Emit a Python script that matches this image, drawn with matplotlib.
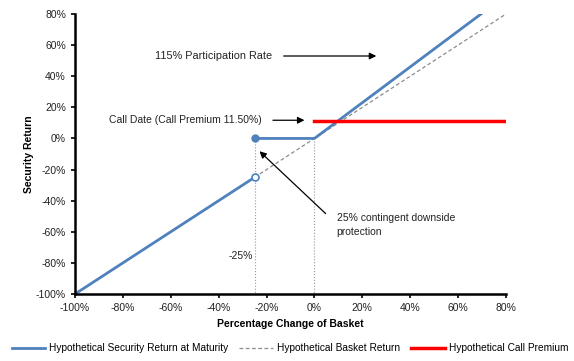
import matplotlib.pyplot as plt
from matplotlib.ticker import FuncFormatter

plt.rcParams['font.family'] = ['Liberation Sans', 'DejaVu Sans']

# security return at maturity (piecewise)
sec_x_low = [-100, -25]
sec_y_low = [-100, -25]
sec_x_high = [-25, 0, 69.57]
sec_y_high = [0, 0, 80]

basket_x = [-25, 80]
basket_y = [-25, 80]

premium_x = [0, 80]
premium_y = [11.5, 11.5]

buffer_x = -25
ticks = [-100, -80, -60, -40, -20, 0, 20, 40, 60, 80]

blue = "#4F81BD"
red = "#FF0000"

fig = plt.figure(figsize=(5.74, 3.61), dpi=100)
ax = fig.add_axes([0.1307, 0.1856, 0.7508, 0.7756])

# guide lines
ax.plot([buffer_x, buffer_x], [0, -100], color="#999999", ls=":", lw=0.8)
ax.plot([0, 0], [0, -100], color="#999999", ls=":", lw=0.8)

ax.plot(basket_x, basket_y, color="#8C8C8C", ls="--", lw=0.9,
        dashes=(3, 2), label="Hypothetical Basket Return")
ax.plot(sec_x_low, sec_y_low, color=blue, lw=2)
ax.plot(sec_x_high, sec_y_high, color=blue, lw=2,
        label="Hypothetical Security Return at Maturity")
ax.plot(premium_x, premium_y, color=red, lw=2.5,
        label="Hypothetical Call Premium")

ax.plot(buffer_x, -25, "o", ms=5, mfc="white", mec=blue, mew=1.2, zorder=5)
ax.plot(buffer_x, 0, "o", ms=5, mfc=blue, mec=blue, zorder=5)

# annotations
fs = 7.5
ax.text(-17.5, 53, "115% Participation Rate", ha="right", va="center", fontsize=7.8, color="#222222")
ax.annotate("", xy=(27, 53), xytext=(-14, 53),
            arrowprops=dict(arrowstyle="-|>", color="black", lw=0.9))
ax.text(-22, 11.7, "Call Date (Call Premium 11.50%)", ha="right", va="center", fontsize=fs, color="#222222")
ax.annotate("", xy=(-3, 11.7), xytext=(-18.5, 11.7),
            arrowprops=dict(arrowstyle="-|>", color="black", lw=0.9))
ax.annotate("", xy=(-23.8, -7), xytext=(5.5, -49.5),
            arrowprops=dict(arrowstyle="-|>", color="black", lw=0.9))
ax.text(9.3, -48, "25% contingent downside\nprotection", ha="left", va="top",
        fontsize=fs, color="#222222", linespacing=1.45)
ax.text(-31, -75.5, "-25%", ha="center", va="center", fontsize=fs, color="#222222")

ax.set_xlim(-100, 80)
ax.set_ylim(-100, 80)
ax.set_xticks(ticks)
ax.set_yticks(ticks)
pct = FuncFormatter(lambda v, p: f"{v:.0f}%")
ax.xaxis.set_major_formatter(pct)
ax.yaxis.set_major_formatter(pct)
ax.tick_params(labelsize=fs, colors="#222222", length=3, width=1.2, direction="out")
ax.tick_params(color="black")
for s in ["top", "right"]:
    ax.spines[s].set_visible(False)
for s in ["left", "bottom"]:
    ax.spines[s].set_linewidth(1.8)

ax.set_xlabel("Percentage Change of Basket", fontsize=fs, fontweight="bold", labelpad=4)
ax.set_ylabel("Security Return", fontsize=fs, fontweight="bold", labelpad=1)

h, l = ax.get_legend_handles_labels()
order = [1, 0, 2]
fig.legend([h[i] for i in order], [l[i] for i in order], loc="center",
           bbox_to_anchor=(0.505, 0.035), ncol=3, frameon=False, fontsize=7.3,
           handlelength=3.3, columnspacing=1.1, handletextpad=0.4)

fig.savefig("out.png", dpi=100)
